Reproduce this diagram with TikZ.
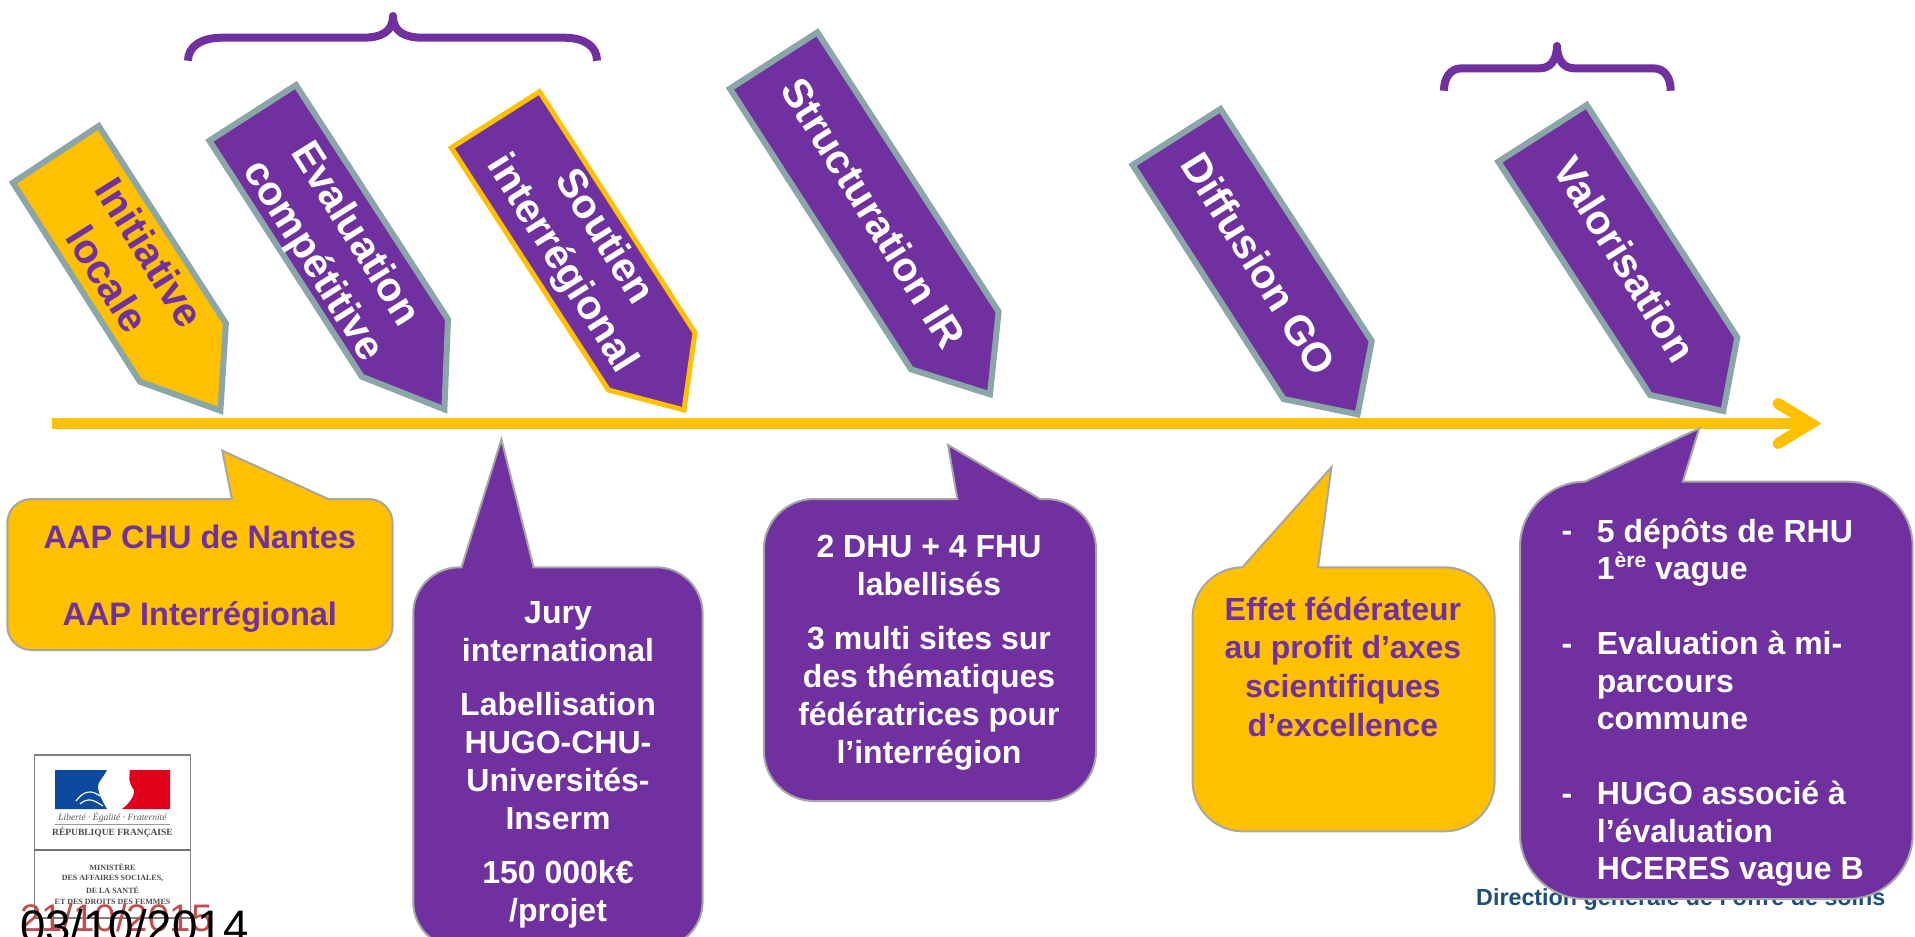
\documentclass[tikz,border=0pt]{standalone}
\usepackage{fontspec}
\setmainfont{Liberation Sans}
\newfontfamily\serifl{Liberation Serif}
\definecolor{hpurple}{HTML}{7030A0}
\definecolor{hyellow}{HTML}{FFC000}
\definecolor{hteal}{HTML}{8AA6A9}
\definecolor{hgrey}{HTML}{A6A6A6}
\definecolor{hfoot}{HTML}{1F4E79}
\definecolor{hdate}{HTML}{C0504D}
\definecolor{hblue}{HTML}{0B4A9E}
\definecolor{hred}{HTML}{E2001A}
\newcommand{\firstln}{\rule{0pt}{32pt}}
% style, L, T, R, B, r, tip, b1, b2
\newcommand{\callout}[9]{%
  \path[#1] (#8,#3) -- (#7) -- (#9,#3) -- ({#4-#6},#3)
    .. controls ({#4-.45*#6},#3) and (#4,{#3+.45*#6}) .. (#4,{#3+#6})
    -- (#4,{#5-#6})
    .. controls (#4,{#5-.45*#6}) and ({#4-.45*#6},#5) .. ({#4-#6},#5)
    -- ({#2+#6},#5)
    .. controls ({#2+.45*#6},#5) and (#2,{#5-.45*#6}) .. (#2,{#5-#6})
    -- (#2,{#3+#6})
    .. controls (#2,{#3+.45*#6}) and ({#2+.45*#6},#3) .. ({#2+#6},#3)
    -- cycle;}
\tikzset{
  flagp/.style={draw=hteal,line width=6pt,fill=hpurple,miter limit=10},
  flagy/.style={draw=hteal,line width=6pt,fill=hyellow,miter limit=10},
  flago/.style={draw=hyellow,line width=5pt,fill=hpurple,miter limit=10},
  rottxt/.style={rotate=-58,align=center,inner sep=0pt,font=\fontsize{41}{50}\selectfont\bfseries},
  bubp/.style={draw=hgrey,line width=2pt,fill=hpurple},
  buby/.style={draw=hgrey,line width=2pt,fill=hyellow},
  bubtxt/.style={anchor=north,align=center,inner sep=0pt,font=\fontsize{32}{38}\selectfont\bfseries},
  bubleft/.style={anchor=north west,align=left,inner sep=0pt,text=white,font=\fontsize{32}{37.5}\selectfont\bfseries},
  dashmark/.style={anchor=base,inner sep=0pt,text=white,font=\fontsize{32}{38}\selectfont\bfseries},
  bracket/.style={draw=hpurple,line width=8pt,line join=round},
  logotxt/.style={inner sep=0pt,text=black!70,font=\fontsize{8}{8}\serifl\bfseries\selectfont},
}
\begin{document}
\begin{tikzpicture}[x=1pt,y=-1pt]
\path[use as bounding box,clip] (0,0) rectangle (1915,937);
\fill[white] (0,0) rectangle (1915,937);
% braces
\draw[bracket] (188,60.7) .. controls (188,46) and (202,37.7) .. (222,37.7) -- (363,37.7) .. controls (381,37.7) and (393,32) .. (393,16) .. controls (393,32) and (405,37.7) .. (423,37.7) -- (564,37.7) .. controls (584,37.7) and (597,46) .. (597,60.7);
\draw[bracket] (1444,90.7) .. controls (1444,78) and (1450,68.3) .. (1462,68.3) -- (1540,68.3) .. controls (1550,68.3) and (1557,60) .. (1557,46) .. controls (1557,60) and (1564,68.3) .. (1574,68.3) -- (1653,68.3) .. controls (1665,68.3) and (1670.7,78) .. (1670.7,90.7);
% axis
\coordinate (axs) at (52.3,423.5);
\coordinate (axe) at (1811,423.5);
\coordinate (barbu) at (1778,403.5);
\coordinate (barbd) at (1778,443.5);
\draw[hyellow,line width=11pt] (axs) -- (axe);
\draw[hyellow,line width=11pt,line cap=round,miter limit=10] (barbu) -- (axe) -- (barbd);
% flags
\path[flagy] (98.7,126) -- (12.9,182.7) -- (140,381.7) -- (220.4,410.7) -- (225.9,323.3) -- cycle;
\node[rottxt,text=hpurple] (t1) at (129,266) {Initiative\\locale};
\path[flagp] (296,85) -- (209.4,140.7) -- (361.8,376.7) -- (444.4,409.3) -- (448,319.3) -- cycle;
\node[rottxt,text=white] (t2) at (333,248) {Evaluation\\compétitive};
\path[flago] (539.5,91.7) -- (451.3,147.7) -- (608.4,390) -- (684,410) -- (695,332.7) -- cycle;
\node[rottxt,text=white] (t3) at (582,251) {Soutien\\interrégional};
\path[flagp] (817.4,32.3) -- (729.9,88.7) -- (911,369.3) -- (990,394.3) -- (998.6,311.7) -- cycle;
\node[rottxt,text=white] (t4) at (874,213) {Structuration IR};
\path[flagp] (1220.5,109) -- (1132.6,165) -- (1283.5,399) -- (1357.6,414.3) -- (1371.8,341) -- cycle;
\node[rottxt,text=white] (t5) at (1259,264) {Diffusion GO};
\path[flagp] (1586.7,105) -- (1498.3,161.7) -- (1650,395) -- (1723.3,411) -- (1737.3,337.3) -- cycle;
\node[rottxt,text=white] (t6) at (1625,259) {Valorisation};
% logo
\draw[black!50,line width=1.5pt] (34.3,755) rectangle (190.7,918);
\draw[black!55,line width=1.5pt] (34.3,850) -- (190.7,850);
\fill[hblue] (55,770) -- (107,770) .. controls (103,778) and (98,782) .. (98,786) .. controls (98,794) and (103,802) .. (107,809) -- (55,809) -- cycle;
\fill[hred] (130,770) -- (170,770) -- (170,809) -- (122,809) .. controls (130,803) and (135,795) .. (134,790) .. controls (128,782) and (129,778) .. (130,770) -- cycle;
\draw[white,line width=1.2pt] (76,801) .. controls (84,790) and (92,790) .. (100,796) (80,804) .. controls (88,797) and (94,800) .. (103,806);
\node[inner sep=0pt,text=black!65,font=\fontsize{9.5}{9.5}\serifl\itshape\selectfont] (ld) at (112.5,817) {Liberté · Égalité · Fraternité};
\draw[black!40,line width=1pt] (55,824.5) -- (170,824.5);
\node[logotxt,font=\fontsize{9.5}{9.5}\serifl\bfseries\selectfont] (lr) at (112.5,832.5) {RÉPUBLIQUE FRANÇAISE};
\node[logotxt] (lm1) at (112.5,867) {MINISTÈRE};
\node[logotxt] (lm2) at (112.5,878.5) {DES AFFAIRES SOCIALES,};
\node[logotxt] (lm3) at (112.5,890) {DE LA SANTÉ};
\node[logotxt] (lm4) at (112.5,901.5) {ET DES DROITS DES FEMMES};
\node[anchor=base west,inner sep=0pt,text=hdate,font=\fontsize{38.4}{40}\selectfont] (d1) at (20,931) {21/10/2015};
\node[anchor=base west,inner sep=0pt,text=black,font=\fontsize{45.6}{48}\selectfont] (d2) at (20,942) {03/10/2014};
% footer
\node[anchor=base west,inner sep=0pt,text=hfoot,font=\fontsize{23.3}{24}\selectfont\bfseries] (foot) at (1476,905) {Direction générale de l’offre de soins};
% callouts
\callout{buby}{7.3}{499}{392.6}{650}{24}{222.3,450.7}{232}{328.3}
\node[bubtxt,text=hpurple,font=\fontsize{32.5}{38}\selectfont\bfseries] (c1) at (199.8,516.5) {\firstln AAP CHU de Nantes\\[38.6pt]AAP Interrégional};
\callout{bubp}{413.3}{567.3}{702.6}{948}{46}{501.4,439.3}{461.5}{533.6}
\node[bubtxt,text=white] (c2) at (558,591.5) {\firstln Jury\\international\\[15.5pt]Labellisation\\HUGO-CHU-\\Universités-\\Inserm\\[16pt]150 000k€\\/projet};
\callout{bubp}{763.9}{499}{1096}{801}{50}{948,445}{957.4}{1040}
\node[bubtxt,text=white] (c3) at (929,525) {\firstln 2 DHU + 4 FHU\\labellisés\\[16pt]3 multi sites sur\\des thématiques\\fédératrices pour\\l’interrégion};
\callout{buby}{1192.6}{567.3}{1494.6}{831.3}{50}{1331.4,467.3}{1242.4}{1318}
\node[bubtxt,text=hpurple,font=\fontsize{32}{38.6}\selectfont\bfseries] (c4) at (1342.9,588) {\firstln Effet fédérateur\\au profit d’axes\\scientifiques\\d’excellence};
\callout{bubp}{1520}{481.7}{1912.7}{899}{65}{1699.3,428.3}{1585}{1682.7}
\node[bubleft] (c5) at (1596.7,509.8) {\firstln 5 dépôts de RHU\\1\raisebox{.38em}{\fontsize{21}{21}\selectfont ère} vague\\[37.5pt]Evaluation à mi-\\parcours\\commune\\[37.5pt]HUGO associé à\\l’évaluation\\HCERES vague B};
\node[dashmark] (b1) at (1567,541.8) {-};
\node[dashmark] (b2) at (1567,654.2) {-};
\node[dashmark] (b3) at (1567,804.2) {-};
\end{tikzpicture}
\end{document}
